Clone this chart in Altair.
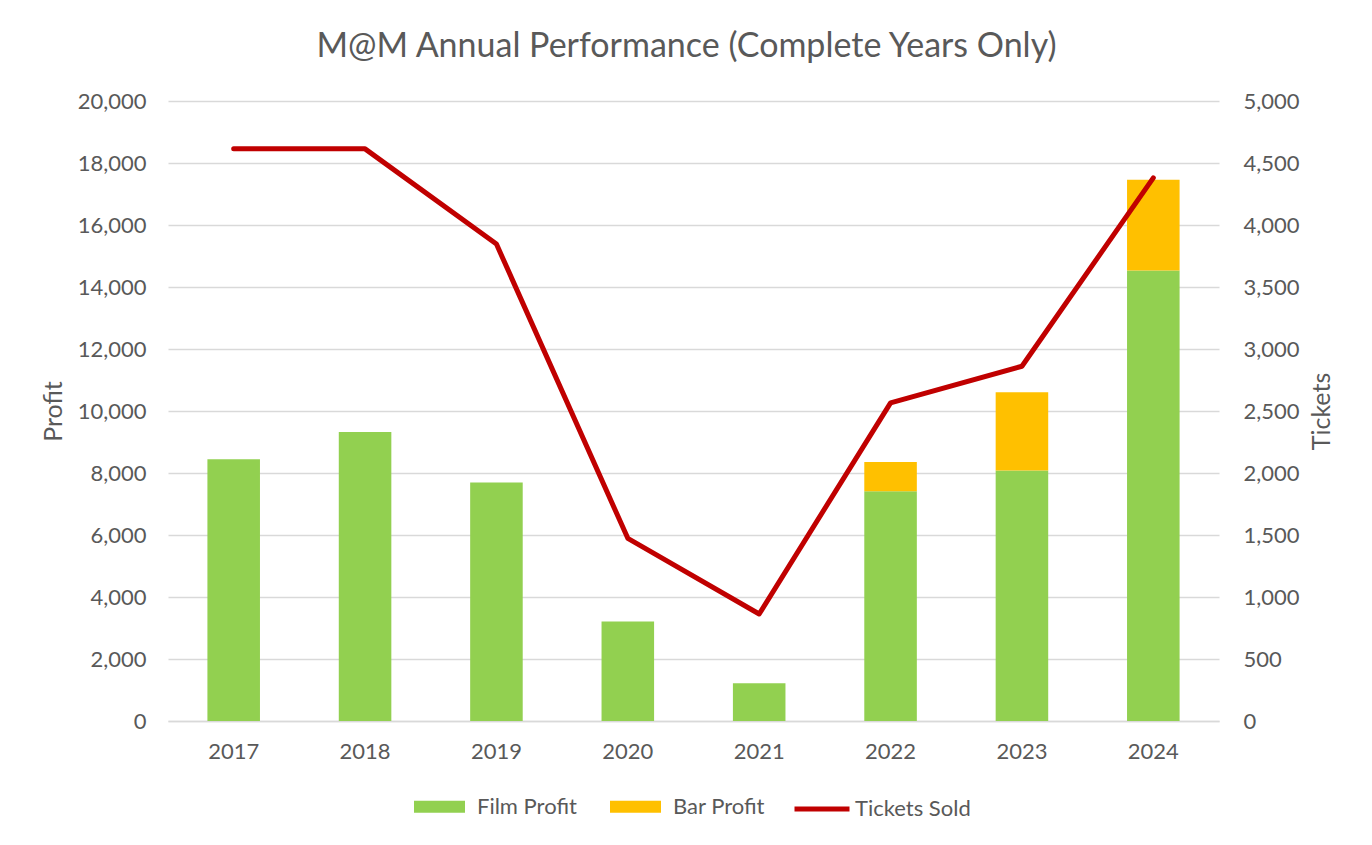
import altair as alt
import pandas as pd

years = ["2017", "2018", "2019", "2020", "2021", "2022", "2023", "2024"]
film_profit = [8440, 9320, 7690, 3213, 1216, 7415, 8077, 14534]
bar_profit = [0, 0, 0, 0, 0, 936, 2530, 2923]
tickets_sold = [4614, 4614, 3846, 1473, 863, 2566, 2861, 4380]

bar_series = ["Film Profit", "Bar Profit"]
bar_colors = ["#92D050", "#FFC000"]
line_series = ["Tickets Sold"]
line_colors = ["#C00000"]

rows = []
for y, f, b in zip(years, film_profit, bar_profit):
    rows.append({"Year": y, "Series": "Film Profit", "Profit": f, "ord": 0})
    if b > 0:
        rows.append({"Year": y, "Series": "Bar Profit", "Profit": b, "ord": 1})
bars_df = pd.DataFrame(rows)
line_df = pd.DataFrame({"Year": years, "Tickets": tickets_sold, "Line": "Tickets Sold"})

FONT = "Lato"
TXT = "#595959"
GRID = "#D9D9D9"

x_enc = alt.X(
    "Year:N",
    sort=years,
    scale=alt.Scale(paddingInner=0.6, paddingOuter=0.3),
    axis=alt.Axis(title=None, labelAngle=0, ticks=False, domain=True, domainColor=GRID,
                  domainWidth=1.3, labelPadding=20),
)

bar_legend = alt.Legend(
    title=None,
    orient="none",
    legendX=246,
    legendY=680,
    direction="horizontal",
    padding=0,
    labelFont=FONT,
    labelFontSize=22,
    labelColor=TXT,
    labelOffset=12,
    columnPadding=33,
    symbolType="M-1,-0.24H1V0.24H-1Z",
    symbolSize=2601,
    symbolStrokeWidth=0,
    symbolOpacity=1,
)

line_legend = alt.Legend(
    title=None,
    orient="none",
    legendX=624,
    legendY=678,
    direction="horizontal",
    padding=0,
    labelFont=FONT,
    labelFontSize=22,
    labelColor=TXT,
    labelOffset=3,
    symbolType="stroke",
    symbolSize=3025,
    symbolStrokeWidth=5,
    symbolOpacity=1,
)

bars = alt.Chart(bars_df).mark_bar(opacity=1).encode(
    x=x_enc,
    y=alt.Y(
        "Profit:Q",
        stack="zero",
        scale=alt.Scale(domain=[0, 20000], nice=False),
        axis=alt.Axis(title="Profit", values=list(range(0, 20001, 2000)), format=",.0f",
                      grid=True, gridColor=GRID, gridWidth=1.3, ticks=False, domain=False,
                      labelPadding=22, titlePadding=11),
    ),
    color=alt.Color("Series:N", scale=alt.Scale(domain=bar_series, range=bar_colors), legend=bar_legend),
    order=alt.Order("ord:Q"),
)

line = alt.Chart(line_df).mark_line(strokeWidth=5, strokeCap="round", strokeJoin="round").encode(
    x=x_enc,
    y=alt.Y(
        "Tickets:Q",
        scale=alt.Scale(domain=[0, 5000], nice=False),
        axis=alt.Axis(title="Tickets", orient="right", values=list(range(0, 5001, 500)), format=",.0f",
                      grid=False, ticks=False, domain=False, labelPadding=24, titlePadding=35,
                      titleAngle=270),
    ),
    stroke=alt.Stroke("Line:N", scale=alt.Scale(domain=line_series, range=line_colors), legend=line_legend),
)

chart = (
    alt.layer(bars, line)
    .resolve_scale(y="independent")
    .properties(
        width=1051,
        height=620,
        autosize=alt.AutoSizeParams(type="none"),
        padding={"left": 160, "top": 93, "right": 140, "bottom": 110},
        title=alt.TitleParams(
            "M@M Annual Performance (Complete Years Only)",
            font=FONT, fontSize=34, fontWeight="normal", color=TXT,
            anchor="middle", offset=26, dx=-7,
        ),
    )
    .configure_axis(labelFont=FONT, labelFontSize=22, labelColor=TXT,
                    titleFont=FONT, titleFontSize=25, titleColor=TXT, titleFontWeight="normal")
    .configure_view(stroke=None)
)

chart.save("out.html", embed_options={"renderer": "svg", "actions": False})
